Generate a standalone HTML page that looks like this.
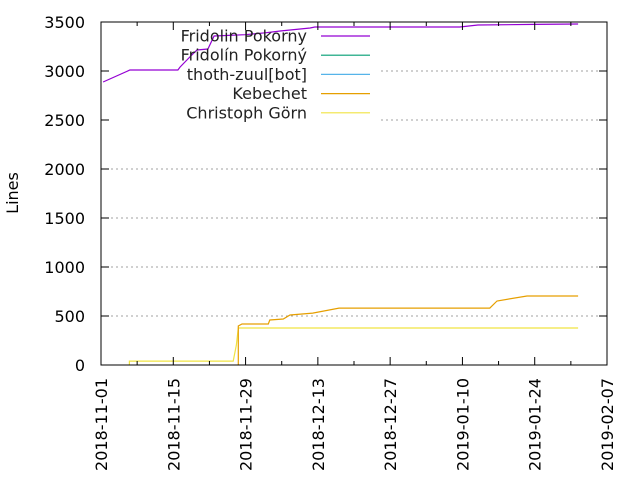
<!DOCTYPE html>
<html><head><meta charset="utf-8"><style>
html,body{margin:0;padding:0;background:#fff;}
svg{display:block;font-family:"DejaVu Sans","Liberation Sans",sans-serif;}
</style></head><body>
<svg id="chart" width="640" height="480" viewBox="0 0 640 480">
<g id="grid"></g>
<rect x="102" y="24" width="279" height="100" fill="#fff"/>
<g id="series"></g>
<g id="axes"></g>
<g id="legend"></g>
<text x="18" y="193" font-size="16" text-anchor="middle" transform="rotate(-90 18 193)" fill="#000">Lines</text>
</svg>
<script>
const seriesNames = ["Fridolin Pokorny","Fridolín Pokorný","thoth-zuul[bot]","Kebechet","Christoph Görn"];
const seriesColors = ["#9400d3","#009e73","#56b4e9","#e69f00","#f0e442"];
// days since 2018-11-01
const purpleDays = [0.4,5.6,14.9,15.3,17.2,18.6,20.7,21.9,27.9,31.8,34.7,40.5,41.4,69.5,73.0,84.1,92.4];
const purpleVals = [2888,3010,3010,3040,3143,3214,3225,3357,3370,3390,3408,3439,3449,3449,3469,3475,3480];
const orangeDays = [26.6,26.6,27.3,32.4,32.7,35.3,36.6,41.0,46.1,75.3,76.7,82.5,92.4];
const orangeVals = [0,398,418,418,459,469,510,530,581,581,653,704,704];
const yellowDays = [5.5,5.5,25.6,26.2,26.6,92.4];
const yellowVals = [0,40,40,200,378,378];
const yTicks = [0,500,1000,1500,2000,2500,3000,3500];
const xTickLabels = ["2018-11-01","2018-11-15","2018-11-29","2018-12-13","2018-12-27","2019-01-10","2019-01-24","2019-02-07"];
const xLabelDays = [0,14,28,42,56,70,84,98];

const L=101,R=607,T=22,B=365,DMAX=98,YMAX=3500;
const xs=d=>L+(d/DMAX)*(R-L);
const ys=v=>B-(v/YMAX)*(B-T);
const NS="http://www.w3.org/2000/svg";
function mk(tag,parent,attrs){const e=document.createElementNS(NS,tag);for(const k in attrs)e.setAttribute(k,attrs[k]);parent.appendChild(e);return e;}
const grid=document.getElementById('grid'),axes=document.getElementById('axes'),ser=document.getElementById('series'),leg=document.getElementById('legend');

yTicks.forEach(v=>{
  if(v>0&&v<YMAX){const g=mk('line',grid,{x1:L,x2:R,y1:ys(v),y2:ys(v),stroke:'#a0a0a0','stroke-dasharray':'2,3','stroke-width':1});
  
  }
  mk('line',axes,{x1:L,x2:L+8,y1:ys(v),y2:ys(v),stroke:'#000'});
  mk('line',axes,{x1:R,x2:R-8,y1:ys(v),y2:ys(v),stroke:'#000'});
  const t=mk('text',axes,{x:L-16,y:ys(v)+6,'font-size':16,'text-anchor':'end',fill:'#000'});
  t.textContent=v;
  
  
});
for(let d=0;d<=DMAX;d+=7){
  const major=d%14===0;
  mk('line',axes,{x1:xs(d),x2:xs(d),y1:B,y2:B-(major?8:4),stroke:'#000'});
  mk('line',axes,{x1:xs(d),x2:xs(d),y1:T,y2:T+(major?8:4),stroke:'#000'});
}
xLabelDays.forEach((d,i)=>{
  const x=xs(d)+6,y=378;
  const t=mk('text',axes,{x:x,y:y,'font-size':16,'text-anchor':'end',fill:'#000',transform:`rotate(-90 ${x} ${y})`});
  t.textContent=xTickLabels[i];
  
  
});
const frame=mk('rect',axes,{x:L,y:T,width:R-L,height:B-T,fill:'none',stroke:'#000','stroke-width':1});



function drawSeries(days,vals,color,name){
  const p=days.map((d,i)=>xs(d).toFixed(1)+','+ys(vals[i]).toFixed(1)).join(' ');
  const e=mk('polyline',ser,{points:p,fill:'none',stroke:color,'stroke-width':1.2});
  
  
}
drawSeries(yellowDays,yellowVals,seriesColors[4],'line-christoph-gorn');
drawSeries(orangeDays,orangeVals,seriesColors[3],'line-kebechet');
drawSeries(purpleDays,purpleVals,seriesColors[0],'line-fridolin-pokorny');

seriesNames.forEach((n,i)=>{
  const y=36+i*19.2;
  const t=mk('text',leg,{x:307,y:y+5.5,'font-size':16,'text-anchor':'end',fill:'#222'});
  t.textContent=n;
  
  
  const l=mk('line',leg,{x1:321,x2:370,y1:y,y2:y,stroke:seriesColors[i],'stroke-width':1.2});
  
  
});
</script>
</body></html>
